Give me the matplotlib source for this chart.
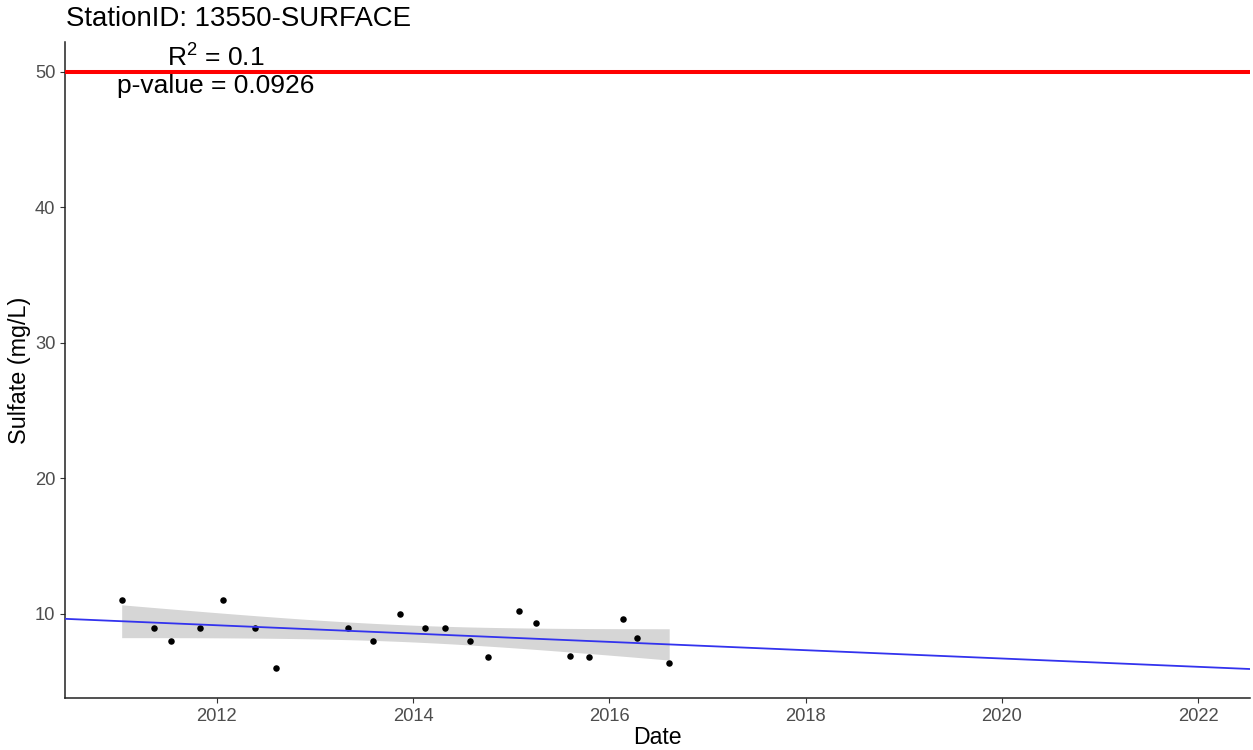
import numpy as np
import pandas as pd
import matplotlib
matplotlib.use("Agg")
import matplotlib.pyplot as plt
import matplotlib.dates as mdates

plt.rcParams['font.family'] = ['Liberation Sans', 'DejaVu Sans']
plt.rcParams['mathtext.fontset'] = 'custom'
plt.rcParams['mathtext.rm'] = 'Liberation Sans'
plt.rcParams['mathtext.it'] = 'Liberation Sans:italic'

# ---- data ----
dates = ["2011-01-12", "2011-05-12", "2011-07-13", "2011-10-30", "2012-01-23",
         "2012-05-22", "2012-08-07", "2013-05-05", "2013-08-04", "2013-11-14",
         "2014-02-14", "2014-05-01", "2014-07-31", "2014-10-08", "2015-01-30",
         "2015-04-02", "2015-08-08", "2015-10-16", "2016-02-21", "2016-04-13",
         "2016-08-11"]
sulfate = [11.0, 9.0, 8.0, 9.0, 11.0,
           9.0, 6.0, 9.0, 8.0, 10.0,
           9.0, 9.0, 8.0, 6.8, 10.2,
           9.3, 6.9, 6.8, 9.6, 8.2,
           6.4]
threshold = 50
station = "StationID: 13550-SURFACE"
r2_label = "0.1"
p_label = "0.0926"
x_limits = ["2010-06-15", "2022-07-13"]
y_limits = [3.8, 52.2]
year_ticks = [2012, 2014, 2016, 2018, 2020, 2022]
y_ticks = [10, 20, 30, 40, 50]

# ---- regression ----
d = pd.to_datetime(dates)
x = mdates.date2num(d.to_pydatetime())
y = np.array(sulfate)
n = len(x)
b1, b0 = np.polyfit(x, y, 1)
resid = y - (b0 + b1 * x)
s = np.sqrt(np.sum(resid ** 2) / (n - 2))
xm = x.mean()
sxx = np.sum((x - xm) ** 2)
tcrit = 2.093  # t(0.975, df=19)

xlo, xhi = mdates.date2num(pd.to_datetime(x_limits).to_pydatetime())
xfull = np.linspace(xlo, xhi, 200)
xr = np.linspace(x.min(), x.max(), 200)
yr = b0 + b1 * xr
se = s * np.sqrt(1.0 / n + (xr - xm) ** 2 / sxx)

# ---- figure ----
fig = plt.figure(figsize=(12.53, 7.5), dpi=100)
ax = fig.add_axes([65 / 1253, 1 - 698 / 750, (1250 - 65) / 1253, (698 - 42) / 750])

ax.fill_between(xr, yr - tcrit * se, yr + tcrit * se, color='#D6D6D6', lw=0, zorder=1)
ax.plot(xfull, b0 + b1 * xfull, color='#3333EE', lw=1.3, zorder=3)
ax.scatter(x, y, s=22, color='black', zorder=2, linewidths=0)
ax.axhline(threshold, color='#FF0000', lw=2.9, zorder=4)

ax.set_xlim(xlo, xhi)
ax.set_ylim(*y_limits)
ax.set_xticks(mdates.date2num([pd.Timestamp(f"{yy}-01-01").to_pydatetime() for yy in year_ticks]))
ax.set_xticklabels([str(yy) for yy in year_ticks])
ax.set_yticks(y_ticks)

for sp in ['top', 'right']:
    ax.spines[sp].set_visible(False)
for sp in ['left', 'bottom']:
    ax.spines[sp].set_color('#222222')
    ax.spines[sp].set_linewidth(1.1)
ax.tick_params(colors='#333333', labelcolor='#4D4D4D', labelsize=13.2, length=3.5, width=0.8)

ax.set_xlabel("Date", fontsize=16.6, color='black', labelpad=1)
ax.set_ylabel("Sulfate (mg/L)", fontsize=16.8, color='black', labelpad=3)

fig.text(66 / 1253, 1 - 19 / 750, station, fontsize=19.9, ha='left', va='center')
fig.text(216 / 1253, 1 - 67 / 750, "R$^2$ = " + r2_label, fontsize=19.0, ha='center', va='baseline')
fig.text(216 / 1253, 1 - 93 / 750, "p-value = " + p_label, fontsize=19.0, ha='center', va='baseline')

fig.savefig("out.png", dpi=100)
